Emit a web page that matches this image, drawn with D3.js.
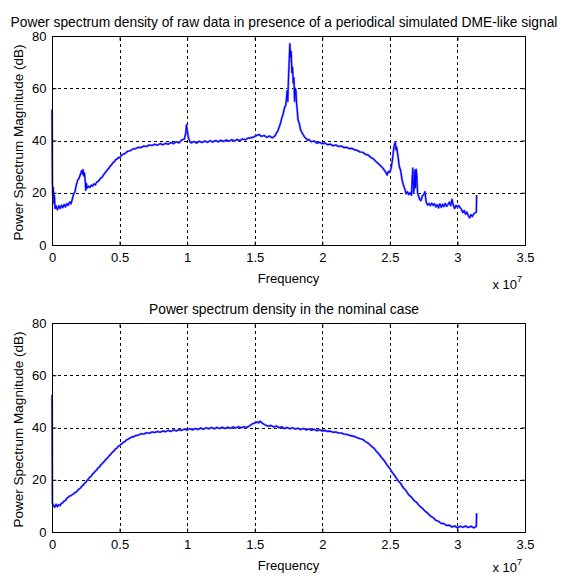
<!DOCTYPE html>
<html>
<head>
<meta charset="utf-8">
<script src="https://cdn.jsdelivr.net/npm/d3@7"></script>
<style>
  html, body { margin: 0; padding: 0; background: #fff; }
  svg { display: block; }
  text { font-family: 'Liberation Sans', Arial, sans-serif; fill: #000; }
</style>
</head>
<body>
<svg id="chart" width="562" height="576"></svg>
<script>
// ── Data (frequency in units of 1e7 Hz, magnitude in dB) ─────

const xTicks = [0, 0.5, 1, 1.5, 2, 2.5, 3, 3.5];
const yTicks = [0, 20, 40, 60, 80];

const titles = [
  'Power spectrum density of raw data in presence of a periodical simulated DME-like signal',
  'Power spectrum density in the nominal case'
];

// raw data with the DME-like pulses
const rawPsd = [
  [0, 52], [0.003, 24], [0.006, 19], [0.01, 22], [0.014, 16], [0.018, 19], [0.022, 14],
  [0.03, 15], [0.04, 13.5], [0.05, 15], [0.06, 14], [0.07, 15.2], [0.08, 14.3], [0.09, 15.5],
  [0.1, 14.6], [0.11, 15.8], [0.12, 15.2], [0.13, 16.4], [0.14, 15.8], [0.15, 17.5],
  [0.16, 19.5], [0.17, 20.3], [0.18, 23], [0.19, 24.8], [0.2, 25.5], [0.21, 27], [0.22, 28.5],
  [0.225, 27.2], [0.23, 28.8], [0.235, 26.5], [0.24, 27.5], [0.245, 25], [0.25, 21],
  [0.255, 23.5], [0.26, 21.8], [0.27, 22.5], [0.28, 22], [0.29, 22.9], [0.3, 22.5],
  [0.31, 23.4], [0.32, 23], [0.33, 24], [0.34, 24.3], [0.35, 24.8], [0.36, 25.6], [0.37, 25.9],
  [0.38, 26.8], [0.39, 27.4], [0.4, 28.1], [0.41, 28.8], [0.42, 29.3], [0.43, 30.2],
  [0.44, 30.6], [0.45, 31.5], [0.46, 31.8], [0.47, 32.6], [0.48, 32.8], [0.49, 33.5],
  [0.5, 33.4], [0.52, 34.6], [0.54, 35], [0.56, 35.9], [0.58, 36.1], [0.6, 36.8], [0.62, 36.9],
  [0.64, 37.4], [0.66, 37.3], [0.68, 37.9], [0.7, 37.7], [0.72, 38.3], [0.74, 38.1],
  [0.76, 38.6], [0.78, 38.2], [0.8, 38.8], [0.82, 38.4], [0.84, 38.9], [0.86, 38.6],
  [0.88, 39.2], [0.9, 38.8], [0.92, 39.5], [0.94, 39.1], [0.96, 40.2], [0.98, 40.6],
  [0.99, 43], [0.995, 46], [1.0, 44], [1.005, 42.5], [1.01, 41], [1.02, 39.6], [1.03, 39.1],
  [1.05, 39.6], [1.07, 39.0], [1.09, 39.7], [1.11, 39.2], [1.13, 39.8], [1.15, 39.3],
  [1.17, 39.9], [1.19, 39.4], [1.21, 40.0], [1.23, 39.5], [1.25, 40.1], [1.27, 39.6],
  [1.29, 40.2], [1.31, 39.7], [1.33, 40.3], [1.35, 39.8], [1.37, 40.4], [1.39, 40.0],
  [1.41, 40.6], [1.43, 40.3], [1.45, 40.9], [1.47, 41.0], [1.49, 41.3], [1.51, 41.8],
  [1.53, 42.3], [1.55, 41.6], [1.57, 41.9], [1.59, 41.2], [1.61, 41.7], [1.63, 41.0],
  [1.65, 41.8], [1.66, 42.8], [1.67, 43.5], [1.68, 45], [1.69, 46.5], [1.70, 48.5],
  [1.71, 50], [1.72, 52.5], [1.73, 53.5], [1.74, 59], [1.745, 55], [1.75, 64], [1.755, 70],
  [1.76, 77], [1.765, 72], [1.77, 74], [1.775, 66], [1.78, 68], [1.785, 62], [1.79, 64],
  [1.795, 55], [1.80, 60], [1.805, 59], [1.81, 54], [1.815, 51.5], [1.82, 48], [1.83, 46.5],
  [1.84, 44], [1.85, 43], [1.86, 42.1], [1.87, 41.2], [1.88, 40.8], [1.89, 40.1], [1.9, 40.4],
  [1.92, 39.5], [1.94, 39.8], [1.96, 39.0], [1.98, 39.3], [2.0, 38.8], [2.02, 39.0],
  [2.04, 38.4], [2.06, 38.6], [2.08, 38.0], [2.1, 38.3], [2.12, 37.7], [2.14, 37.9],
  [2.16, 37.3], [2.18, 37.4], [2.2, 36.9], [2.22, 37.0], [2.24, 36.4], [2.26, 36.2],
  [2.28, 35.6], [2.3, 35.5], [2.32, 34.7], [2.34, 34.4], [2.36, 33.5], [2.38, 32.9],
  [2.4, 31.8], [2.42, 30.9], [2.44, 29.9], [2.46, 28.6], [2.47, 27.8], [2.48, 26.8],
  [2.49, 28.2], [2.5, 27.8], [2.51, 29.5], [2.52, 33], [2.53, 37.5], [2.54, 39.5],
  [2.545, 36.5], [2.55, 37.5], [2.56, 34], [2.57, 30], [2.58, 28.5], [2.59, 25], [2.6, 23],
  [2.61, 21.5], [2.62, 19.6], [2.63, 20.4], [2.64, 19.3], [2.65, 20], [2.66, 19.1],
  [2.665, 25], [2.67, 29.4], [2.675, 20], [2.68, 21.5], [2.685, 28.7], [2.69, 22], [2.695, 29],
  [2.70, 26], [2.705, 20], [2.71, 19.1], [2.72, 17.5], [2.73, 17], [2.74, 18.8], [2.75, 19.2],
  [2.76, 20.4], [2.765, 18], [2.77, 16.2], [2.78, 15.3], [2.79, 15.9], [2.8, 15.1],
  [2.81, 16.0], [2.82, 15.2], [2.83, 15.8], [2.84, 14.6], [2.85, 15.4], [2.86, 14.2],
  [2.87, 15.7], [2.88, 14.4], [2.89, 15.6], [2.9, 14.7], [2.91, 15.9], [2.92, 14.8],
  [2.93, 15.5], [2.94, 16.4], [2.95, 15.1], [2.96, 17.5], [2.97, 15.0], [2.98, 14.0],
  [2.99, 15.2], [3.0, 14.5], [3.01, 15.1], [3.02, 14.3], [3.03, 13.6], [3.04, 12.4],
  [3.05, 13.2], [3.06, 11.8], [3.07, 12.6], [3.08, 11.3], [3.09, 10.4], [3.1, 11.6],
  [3.11, 10.9], [3.12, 11.8], [3.13, 12.3], [3.14, 12.6], [3.142, 19.1]
];

// nominal case
const nominalPsd = [
  [0, 52.4], [0.003, 11], [0.01, 10.3], [0.02, 9.5], [0.03, 10.6], [0.04, 9.7], [0.05, 10.5],
  [0.06, 10.1], [0.07, 11.0], [0.08, 11.2], [0.09, 11.9], [0.1, 12.1], [0.11, 12.9],
  [0.12, 13.3], [0.13, 13.8], [0.14, 13.9], [0.15, 14.3], [0.16, 14.6], [0.17, 15.1],
  [0.18, 15.3], [0.19, 15.9], [0.2, 16.4], [0.21, 16.8], [0.22, 17.5], [0.23, 17.9],
  [0.24, 18.6], [0.25, 19.0], [0.26, 19.8], [0.27, 20.3], [0.28, 21.0], [0.29, 21.4],
  [0.3, 22.2], [0.31, 22.6], [0.32, 23.3], [0.33, 23.7], [0.34, 24.5], [0.35, 24.8],
  [0.36, 25.6], [0.37, 26.1], [0.38, 26.7], [0.39, 27.2], [0.4, 27.9], [0.41, 28.3],
  [0.42, 29.0], [0.43, 29.5], [0.44, 30.1], [0.45, 30.7], [0.46, 31.1], [0.47, 31.8],
  [0.48, 32.1], [0.49, 32.8], [0.5, 33.0], [0.51, 33.6], [0.52, 33.9], [0.53, 34.5],
  [0.54, 34.6], [0.55, 35.2], [0.56, 35.4], [0.57, 35.8], [0.58, 36.0], [0.59, 36.4],
  [0.6, 36.4], [0.62, 36.9], [0.64, 37.1], [0.66, 37.6], [0.68, 37.5], [0.7, 38.0],
  [0.72, 37.8], [0.74, 38.3], [0.76, 38.1], [0.78, 38.5], [0.8, 38.2], [0.82, 38.7],
  [0.84, 38.4], [0.86, 38.9], [0.88, 38.5], [0.9, 39.1], [0.92, 38.7], [0.94, 39.2],
  [0.96, 38.9], [0.98, 39.4], [1.0, 39.0], [1.02, 39.5], [1.04, 39.1], [1.06, 39.6],
  [1.08, 39.2], [1.1, 39.8], [1.12, 39.3], [1.14, 39.9], [1.16, 39.5], [1.18, 40.0],
  [1.2, 39.5], [1.22, 40.0], [1.24, 39.6], [1.26, 40.1], [1.28, 39.6], [1.3, 40.1],
  [1.32, 39.7], [1.34, 40.2], [1.36, 39.8], [1.38, 40.3], [1.4, 39.9], [1.42, 40.3],
  [1.44, 40.0], [1.46, 40.6], [1.48, 41.3], [1.5, 41.7], [1.52, 42.2], [1.53, 41.8],
  [1.54, 42.4], [1.56, 41.5], [1.58, 40.9], [1.6, 40.5], [1.62, 40.8], [1.64, 40.2],
  [1.66, 40.6], [1.68, 39.9], [1.7, 40.3], [1.72, 39.6], [1.74, 40.0], [1.76, 39.5],
  [1.78, 39.9], [1.8, 39.4], [1.82, 39.7], [1.84, 39.2], [1.86, 39.6], [1.88, 39.1],
  [1.9, 39.4], [1.92, 39.0], [1.94, 39.3], [1.96, 38.8], [1.98, 39.1], [2.0, 38.7],
  [2.02, 38.9], [2.04, 38.5], [2.06, 38.6], [2.08, 38.2], [2.1, 38.3], [2.12, 37.9],
  [2.14, 37.9], [2.16, 37.5], [2.18, 37.4], [2.2, 37.0], [2.22, 36.8], [2.24, 36.5],
  [2.26, 36.1], [2.28, 35.7], [2.3, 35.4], [2.32, 34.6], [2.34, 34.0], [2.36, 33.0],
  [2.38, 32.2], [2.4, 30.9], [2.42, 29.8], [2.44, 28.4], [2.46, 27.2], [2.48, 25.6],
  [2.5, 24.3], [2.52, 22.6], [2.54, 21.3], [2.56, 19.7], [2.58, 18.6], [2.6, 16.9],
  [2.62, 15.8], [2.64, 14.2], [2.66, 13.3], [2.68, 12.0], [2.7, 11.2], [2.72, 9.9],
  [2.74, 9.1], [2.76, 8.0], [2.78, 7.2], [2.8, 6.1], [2.82, 5.5], [2.84, 4.5], [2.86, 4.1],
  [2.88, 3.3], [2.9, 3.2], [2.92, 2.5], [2.94, 2.6], [2.96, 1.9], [2.98, 2.3], [3.0, 1.6],
  [3.02, 2.2], [3.04, 1.8], [3.06, 2.3], [3.08, 1.7], [3.1, 2.2], [3.12, 1.6], [3.14, 2.1],
  [3.142, 7.2]
];

// ── Layout ──────────────────────────────────────────────────

const svg = d3.select('#chart');
const left = 52, right = 525;

const panels = [
  { top: 36,  bottom: 245, title: titles[0], data: rawPsd },
  { top: 323, bottom: 532, title: titles[1], data: nominalPsd }
];

const x = d3.scaleLinear().domain([0, 3.5]).range([left, right]);

/** Draw one MATLAB-style subplot */
function drawPanel(p) {
  const y = d3.scaleLinear().domain([0, 80]).range([p.bottom, p.top]);
  const w = right - left, h = p.bottom - p.top;
  const g = svg.append('g');

  // grid
  g.append('g')
    .attr('transform', `translate(0,${p.bottom})`)
    .call(d3.axisBottom(x).tickValues(xTicks.slice(1, -1)).tickSize(-h).tickFormat(''))
    .call(s => s.select('.domain').remove())
    .selectAll('line')
    .attr('stroke', '#000').attr('stroke-dasharray', '3,3').attr('shape-rendering', 'crispEdges');

  g.append('g')
    .attr('transform', `translate(${left},0)`)
    .call(d3.axisLeft(y).tickValues(yTicks.slice(1, -1)).tickSize(-w).tickFormat(''))
    .call(s => s.select('.domain').remove())
    .selectAll('line')
    .attr('stroke', '#000').attr('stroke-dasharray', '3,3').attr('shape-rendering', 'crispEdges');

  // series: soft halo + solid line
  const line = d3.line().x(d => x(d[0])).y(d => y(d[1]));
  g.append('path').datum(p.data)
    .attr('d', line).attr('fill', 'none')
    .attr('stroke', '#7f7fff').attr('stroke-width', 2.2).attr('stroke-linejoin', 'round');
  g.append('path').datum(p.data)
    .attr('d', line).attr('fill', 'none')
    .attr('stroke', '#0000ff').attr('stroke-width', 1.1).attr('stroke-linejoin', 'round');

  // box
  g.append('rect')
    .attr('x', left + 0.5).attr('y', p.top + 0.5)
    .attr('width', w).attr('height', h)
    .attr('fill', 'none').attr('stroke', '#000').attr('stroke-width', 1);

  // axes with inward ticks
  const fmt = d => String(d);
  const axisStyle = s => {
    s.select('.domain').remove();
    s.selectAll('line').attr('stroke', '#000');
    s.selectAll('text').attr('font-size', '13px')
      .attr('font-family', "'Liberation Sans', Arial, sans-serif").attr('fill', '#000');
  };

  g.append('g')
    .attr('transform', `translate(0,${p.bottom + 0.5})`)
    .call(d3.axisBottom(x).tickValues(xTicks).tickFormat(fmt).tickSizeInner(-4).tickSizeOuter(0).tickPadding(7))
    .call(axisStyle);
  g.append('g')
    .attr('transform', `translate(0,${p.top + 0.5})`)
    .call(d3.axisTop(x).tickValues(xTicks).tickFormat('').tickSizeInner(-4).tickSizeOuter(0))
    .call(axisStyle);
  g.append('g')
    .attr('transform', `translate(${left + 0.5},0)`)
    .call(d3.axisLeft(y).tickValues(yTicks).tickFormat(fmt).tickSizeInner(-4).tickSizeOuter(0).tickPadding(6))
    .call(axisStyle);
  g.append('g')
    .attr('transform', `translate(${right + 0.5},0)`)
    .call(d3.axisRight(y).tickValues(yTicks).tickFormat('').tickSizeInner(-4).tickSizeOuter(0))
    .call(axisStyle);

  // ── Labels ──────────────────────────────────────────────────
  g.append('text')
    .attr('x', 284).attr('y', p.top - 9)
    .attr('text-anchor', 'middle').attr('font-size', '13.8px')
    .text(p.title);

  g.append('text')
    .attr('x', (left + right) / 2).attr('y', p.bottom + 38)
    .attr('text-anchor', 'middle').attr('font-size', '13px')
    .text('Frequency');

  g.append('text')
    .attr('transform', `translate(23,${(p.top + p.bottom) / 2 + 2}) rotate(-90)`)
    .attr('text-anchor', 'middle').attr('font-size', '13.5px')
    .text('Power Spectrum Magnitude (dB)');

  const exp = g.append('text')
    .attr('x', 522).attr('y', Math.min(p.bottom + 44, 572))
    .attr('text-anchor', 'end').attr('font-size', '13px');
  exp.append('tspan').text('x 10');
  exp.append('tspan').attr('dy', -7).attr('font-size', '9px').text('7');
}

panels.forEach(drawPanel);
</script>
</body>
</html>
